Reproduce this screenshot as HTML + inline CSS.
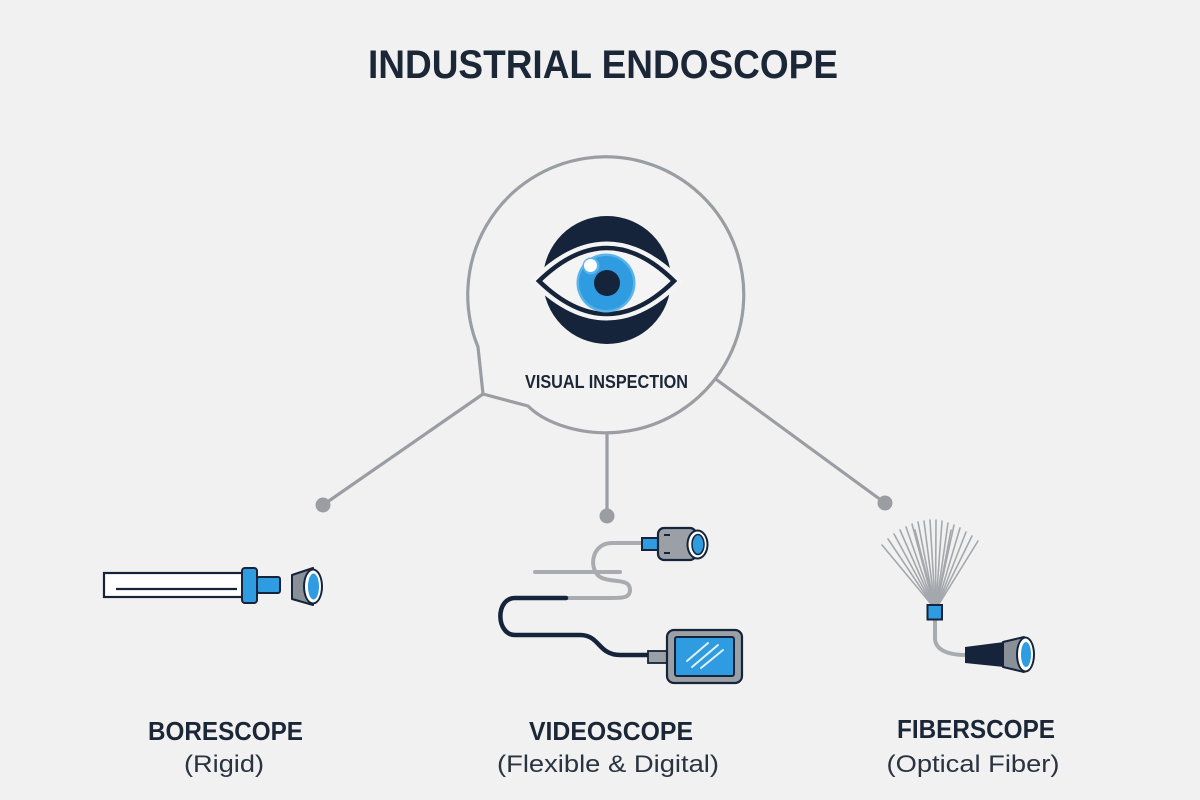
<!DOCTYPE html>
<html><head><meta charset="utf-8"><style>
html,body{margin:0;padding:0;background:#f1f1f1;}
svg{display:block;}
</style></head><body>
<svg width="1200" height="800" viewBox="0 0 1200 800" xmlns="http://www.w3.org/2000/svg">
<rect width="1200" height="800" fill="#f1f1f1"/>
<!-- Title -->
<text x="603" y="78" text-anchor="middle" font-family="Liberation Sans, sans-serif" font-weight="bold" font-size="40" fill="#1b2636" textLength="470" lengthAdjust="spacingAndGlyphs">INDUSTRIAL ENDOSCOPE</text>

<!-- Connectors -->
<g stroke="#9a9ea3" stroke-width="3.2" fill="none" stroke-linecap="round">
  <line x1="483" y1="394" x2="323" y2="505"/>
  <line x1="607" y1="433" x2="607" y2="516"/>
  <line x1="717" y1="380" x2="885" y2="503"/>
  <path d="M478,347 A138,138 0 1 1 560,425 Q540,418 528,406 L483,394 Z" fill="#f2f2f2" stroke-linejoin="round"/>
</g>
<g fill="#9a9ea3">
  <circle cx="323" cy="505" r="7.5"/>
  <circle cx="607" cy="516" r="7.5"/>
  <circle cx="885" cy="503" r="7.5"/>
</g>

<!-- Eye icon -->
<circle cx="607" cy="280" r="64" fill="#15243a"/>
<path d="M537,281 Q607,213 676,281 Q607,349 537,281 Z" fill="#f4f4f4" stroke="#f4f4f4" stroke-width="11" stroke-linejoin="miter"/>
<path d="M539,281 Q607,215 674,281 Q607,347 539,281 Z" fill="#f4f4f4" stroke="#15243a" stroke-width="4.5" stroke-linejoin="miter"/>
<circle cx="606" cy="283" r="29.5" fill="#5ab4ea"/>
<circle cx="606" cy="283" r="27" fill="#2f9be0"/>
<circle cx="607" cy="283" r="13" fill="#15243a"/>
<circle cx="591" cy="266" r="8.5" fill="#5ab4ea"/>
<circle cx="590.5" cy="265.5" r="6.5" fill="#ffffff"/>

<text x="606.5" y="388" text-anchor="middle" font-family="Liberation Sans, sans-serif" font-weight="bold" font-size="18" fill="#1b2636" textLength="163" lengthAdjust="spacingAndGlyphs">VISUAL INSPECTION</text>

<!-- Borescope -->
<rect x="104" y="573" width="140" height="24" fill="#ffffff" stroke="#15243a" stroke-width="2.2"/>
<line x1="116" y1="589" x2="237" y2="589" stroke="#15243a" stroke-width="2.2"/>
<rect x="257" y="577" width="23" height="16" rx="2" fill="#2f9be0" stroke="#15243a" stroke-width="2"/>
<rect x="242" y="568" width="15" height="35" rx="3" fill="#2f9be0" stroke="#15243a" stroke-width="2"/>
<path d="M292,575 L313,568 L313,605 L292,599 Z" fill="#8a9098" stroke="#15243a" stroke-width="2" stroke-linejoin="round"/>
<ellipse cx="313" cy="586.5" rx="10" ry="18" fill="#15243a"/>
<ellipse cx="313" cy="586.5" rx="8" ry="16" fill="#ffffff"/>
<ellipse cx="313.5" cy="586.5" rx="5.5" ry="13" fill="#2f9be0"/>

<!-- Videoscope -->
<g fill="none" stroke-linecap="round" stroke-linejoin="round">
  <line x1="535" y1="572" x2="620" y2="572" stroke="#a8acb0" stroke-width="4"/>
  <path d="M645,543 L612,543 C590,543 588,572 602,578 C614,583 630,578 630,590 C630,598 622,598 612,598 L566,598" stroke="#a8acb0" stroke-width="4"/>
  <path d="M566,598 L515,598 C495,598 496,635 515,635 L580,635 C600,635 598,655 620,655 L650,655" stroke="#15243a" stroke-width="4.5"/>
</g>
<rect x="642" y="538" width="18" height="12" fill="#2f9be0" stroke="#15243a" stroke-width="2"/>
<rect x="658" y="528" width="38" height="32" rx="6" fill="#9aa0a6" stroke="#15243a" stroke-width="2.2"/>
<line x1="664" y1="535" x2="670" y2="535" stroke="#15243a" stroke-width="2"/>
<line x1="664" y1="553" x2="670" y2="553" stroke="#15243a" stroke-width="2"/>
<ellipse cx="697.5" cy="544.5" rx="11" ry="15" fill="#15243a"/>
<ellipse cx="697.5" cy="544.5" rx="9" ry="13" fill="#ffffff"/>
<ellipse cx="698" cy="544.5" rx="6" ry="10" fill="#2f9be0" stroke="#15243a" stroke-width="1.5"/>

<rect x="648" y="651" width="20" height="12" fill="#9aa0a6" stroke="#15243a" stroke-width="1.8"/>
<rect x="667" y="630" width="75" height="53" rx="7" fill="#9aa0a6" stroke="#15243a" stroke-width="2.2"/>
<rect x="675" y="637" width="59" height="39" rx="2" fill="#2f9be0" stroke="#15243a" stroke-width="2"/>
<g stroke="#dff2ff" stroke-width="2" stroke-linecap="round">
  <line x1="687" y1="661" x2="708" y2="643"/>
  <line x1="692" y1="667" x2="718" y2="645"/>
  <line x1="701" y1="668" x2="723" y2="650"/>
</g>

<!-- Fiberscope -->
<g stroke="#a4a8ac" stroke-width="1.6" stroke-linecap="round">
  <line x1="931" y1="604" x2="882" y2="545"/>
  <line x1="931.5" y1="604" x2="888" y2="539"/>
  <line x1="932" y1="604" x2="894" y2="534"/>
  <line x1="932.5" y1="604" x2="900" y2="530"/>
  <line x1="933" y1="604" x2="906" y2="527"/>
  <line x1="933.5" y1="604" x2="912" y2="524"/>
  <line x1="934" y1="604" x2="918" y2="522"/>
  <line x1="934.5" y1="604" x2="924" y2="521"/>
  <line x1="935" y1="604" x2="930" y2="520"/>
  <line x1="935.5" y1="604" x2="936" y2="520"/>
  <line x1="936" y1="604" x2="942" y2="521"/>
  <line x1="936.5" y1="604" x2="948" y2="523"/>
  <line x1="937" y1="604" x2="954" y2="525"/>
  <line x1="937.5" y1="604" x2="960" y2="528"/>
  <line x1="938" y1="604" x2="966" y2="532"/>
  <line x1="938.5" y1="604" x2="972" y2="536"/>
  <line x1="939" y1="604" x2="978" y2="541"/>
  <line x1="934" y1="604" x2="915" y2="530"/>
  <line x1="937" y1="604" x2="951" y2="530"/>
</g>
<path d="M935,620 L935,638 C935,650 948,655 966,655" fill="none" stroke="#a8acb0" stroke-width="4"/>
<rect x="927.5" y="605" width="14.5" height="14.5" fill="#2f9be0" stroke="#15243a" stroke-width="2"/>
<path d="M965,647 L1004,642 L1004,667 L965,663 Z" fill="#15243a"/>
<path d="M1003,642 L1024,637 L1024,672 L1003,667 Z" fill="#8a9098" stroke="#15243a" stroke-width="2" stroke-linejoin="round"/>
<ellipse cx="1025.5" cy="654.5" rx="9.5" ry="18" fill="#15243a"/>
<ellipse cx="1025.5" cy="654.5" rx="7.5" ry="16" fill="#ffffff"/>
<ellipse cx="1026" cy="654.5" rx="5" ry="12.5" fill="#2f9be0"/>

<!-- Labels -->
<g font-family="Liberation Sans, sans-serif" fill="#1b2636" text-anchor="middle">
  <text x="225.5" y="740" font-weight="bold" font-size="26" textLength="155" lengthAdjust="spacingAndGlyphs">BORESCOPE</text>
  <text x="224" y="772" font-size="24" fill="#2a3340" textLength="80" lengthAdjust="spacingAndGlyphs">(Rigid)</text>
  <text x="611" y="740" font-weight="bold" font-size="26" textLength="164" lengthAdjust="spacingAndGlyphs">VIDEOSCOPE</text>
  <text x="608" y="772" font-size="24" fill="#2a3340" textLength="222" lengthAdjust="spacingAndGlyphs">(Flexible &amp; Digital)</text>
  <text x="976" y="738" font-weight="bold" font-size="26" textLength="158" lengthAdjust="spacingAndGlyphs">FIBERSCOPE</text>
  <text x="973" y="772" font-size="24" fill="#2a3340" textLength="173" lengthAdjust="spacingAndGlyphs">(Optical Fiber)</text>
</g>
</svg>
</body></html>
